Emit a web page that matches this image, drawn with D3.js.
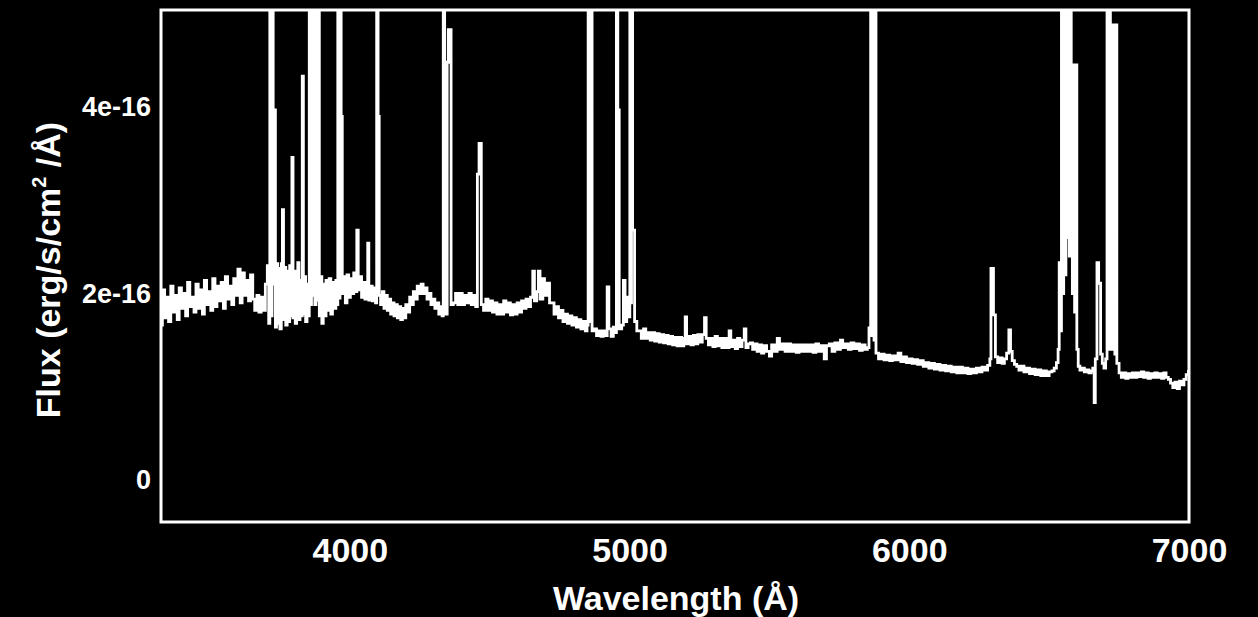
<!DOCTYPE html>
<html>
<head>
<meta charset="UTF-8">
<script src="https://d3js.org/d3.v7.min.js"></script>
<style>
  body { margin: 0; background: #000; overflow: hidden; }
  svg { display: block; }
  text { font-family: 'Liberation Sans', Arial, sans-serif; font-weight: bold; fill: #fff; }
</style>
</head>
<body>
<svg id="chart" width="1258" height="617"></svg>
<script>
// wavelength in Angstrom, flux in units of 1e-16 erg/s/cm^2/A
const wavelength = [
  3325,3330,3338,3345,3352,3360,3368,3375,3383,3390,3398,3405,3413,3420,3428,3435,3443,3450,3458,3465,
  3473,3480,3488,3495,3503,3510,3518,3525,3533,3540,3548,3555,3563,3570,3578,3585,3593,3600,3608,3615,
  3623,3630,3638,3645,3653,3660,3668,3675,3683,3690,3698,3705,3710,3714,3718,3722,3726,3730,3734,3738,
  3742,3746,3750,3755,3759,3763,3767,3771,3776,3780,3785,3789,3793,3797,3801,3805,3810,3814,3818,3822,
  3826,3830,3834,3838,3842,3847,3851,3855,3859,3863,3867,3871,3875,3879,3883,3887,3891,3896,3900,3905,
  3910,3915,3920,3926,3932,3938,3944,3950,3954,3957,3961,3965,3969,3973,3978,3984,3990,3996,4002,4008,
  4014,4020,4025,4030,4036,4042,4048,4054,4060,4064,4068,4074,4080,4086,4092,4096,4101,4105,4110,4116,
  4122,4128,4134,4140,4146,4152,4158,4164,4170,4176,4182,4188,4194,4200,4207,4214,4220,4227,4234,4241,
  4248,4255,4262,4269,4276,4283,4290,4297,4304,4311,4318,4325,4330,4334,4339,4348,4352,4362,4370,4378,
  4386,4394,4402,4410,4418,4426,4434,4442,4450,4456,4462,4470,4478,4486,4494,4502,4510,4518,4526,4534,
  4542,4550,4558,4566,4574,4582,4590,4598,4606,4614,4622,4630,4638,4646,4654,4660,4668,4674,4680,4690,
  4696,4706,4714,4722,4730,4738,4746,4754,4762,4770,4778,4786,4794,4802,4810,4818,4826,4834,4842,4848,
  4852,4857,4861,4866,4874,4882,4890,4898,4906,4912,4920,4926,4934,4942,4950,4953,4958,4963,4972,4978,
  4984,4990,4996,5001,5004,5007,5011,5018,5026,5034,5042,5050,5058,5066,5074,5082,5090,5098,5106,5114,
  5122,5130,5138,5146,5154,5162,5170,5178,5186,5194,5199,5204,5212,5220,5228,5236,5244,5252,5260,5268,
  5274,5282,5290,5298,5306,5314,5322,5330,5338,5346,5356,5362,5370,5378,5386,5394,5402,5410,5416,5424,
  5432,5440,5448,5456,5464,5472,5480,5490,5500,5508,5518,5528,5536,5546,5556,5566,5576,5586,5596,5606,
  5616,5626,5636,5646,5656,5666,5676,5686,5696,5704,5714,5724,5734,5744,5754,5762,5772,5782,5792,5802,
  5812,5822,5832,5842,5850,5856,5862,5866,5870,5874,5877,5881,5890,5900,5910,5920,5930,5940,5950,5960,
  5970,5980,5990,6000,6010,6020,6030,6040,6050,6060,6070,6080,6090,6100,6110,6120,6130,6140,6150,6160,
  6170,6180,6190,6200,6210,6220,6230,6240,6250,6260,6270,6280,6288,6292,6301,6308,6316,6324,6332,6340,
  6348,6356,6362,6368,6376,6384,6392,6400,6410,6420,6430,6440,6450,6460,6470,6480,6490,6500,6510,6518,
  6526,6532,6536,6540,6544,6548,6552,6556,6560,6564,6568,6572,6576,6579,6583,6587,6591,6595,6599,6604,
  6610,6618,6626,6634,6642,6650,6656,6661,6665,6671,6677,6684,6690,6696,6702,6707,6711,6715,6719,6723,
  6727,6731,6735,6738,6742,6750,6758,6766,6774,6782,6790,6798,6806,6814,6822,6830,6838,6846,6854,6862,
  6870,6878,6886,6894,6902,6910,6918,6926,6934,6942,6950,6958,6966,6974,6982,6990,6998
];
const flux = [
  1.66,2.04,1.74,1.96,1.70,2.08,1.80,1.98,1.72,2.06,1.84,2.00,1.76,2.12,1.86,1.96,1.80,2.10,1.84,2.04,
  1.78,2.14,1.88,2.02,1.82,2.16,1.86,2.08,1.92,2.12,1.84,2.18,1.94,2.08,1.88,2.16,1.98,2.26,1.90,2.22,
  1.98,2.14,1.92,2.20,1.94,1.82,1.98,1.80,1.96,1.82,2.10,2.30,1.68,5.6,1.76,5.6,2.10,3.97,1.64,2.32,
  1.68,2.27,1.62,2.32,2.90,1.72,2.28,1.66,2.24,1.70,2.30,1.76,3.46,1.74,2.24,1.68,2.18,2.33,1.72,2.14,
  1.76,4.33,1.78,2.18,1.70,2.10,1.76,5.6,1.88,5.6,1.98,5.6,1.88,5.6,1.93,5.6,1.76,2.18,1.68,2.10,
  1.76,2.14,1.82,2.16,1.78,2.12,1.84,2.14,1.88,5.6,1.95,5.6,3.90,2.00,2.18,1.90,2.20,1.96,2.16,2.00,
  2.22,2.02,2.68,2.04,2.18,1.96,2.12,1.94,2.10,2.54,1.93,2.08,1.92,2.06,1.90,5.6,3.90,1.98,1.88,2.02,
  1.84,1.98,1.82,1.94,1.78,1.90,1.76,1.88,1.74,1.86,1.72,1.84,1.74,1.88,1.80,1.96,1.88,2.02,1.94,2.08,
  2.00,2.10,2.00,2.06,1.94,2.00,1.88,1.94,1.84,1.90,1.78,1.86,1.76,5.6,1.78,4.48,4.83,1.88,1.90,2.00,
  1.88,2.00,1.88,1.98,1.90,2.00,1.88,1.98,1.86,3.28,3.61,1.88,1.82,1.94,1.82,1.92,1.80,1.90,1.78,1.88,
  1.78,1.92,1.80,1.90,1.77,1.88,1.78,1.90,1.80,1.92,1.84,1.94,1.86,1.96,2.24,1.92,2.02,2.24,1.94,2.16,
  1.98,2.11,1.90,1.90,1.78,1.86,1.74,1.82,1.70,1.78,1.68,1.76,1.66,1.74,1.64,1.72,1.62,1.70,1.60,1.66,
  5.6,1.70,5.6,1.60,1.62,1.55,1.60,1.54,1.60,1.55,2.07,1.62,1.54,1.64,1.58,5.6,3.97,1.62,1.66,2.14,
  1.70,1.96,1.75,5.6,1.90,5.6,2.68,1.70,1.60,1.60,1.52,1.62,1.52,1.58,1.50,1.58,1.49,1.57,1.48,1.56,
  1.47,1.55,1.46,1.54,1.45,1.53,1.44,1.53,1.44,1.52,1.75,1.46,1.54,1.45,1.55,1.46,1.56,1.48,1.56,1.74,
  1.52,1.45,1.52,1.43,1.54,1.44,1.52,1.42,1.52,1.42,1.60,1.43,1.50,1.41,1.52,1.43,1.50,1.62,1.42,1.46,
  1.47,1.40,1.46,1.38,1.45,1.36,1.44,1.38,1.33,1.45,1.38,1.52,1.40,1.46,1.38,1.46,1.38,1.45,1.37,1.45,
  1.38,1.45,1.38,1.45,1.37,1.46,1.38,1.44,1.30,1.44,1.46,1.38,1.47,1.40,1.50,1.42,1.46,1.40,1.47,1.41,
  1.46,1.39,1.45,1.40,1.42,1.63,5.6,1.55,5.6,1.50,5.6,1.36,1.30,1.35,1.29,1.34,1.28,1.33,1.29,1.36,
  1.27,1.32,1.26,1.30,1.25,1.29,1.24,1.28,1.22,1.26,1.20,1.25,1.19,1.24,1.18,1.23,1.17,1.22,1.16,1.21,
  1.15,1.21,1.15,1.20,1.14,1.19,1.15,1.20,1.16,1.21,1.18,1.23,1.30,2.27,1.77,1.32,1.26,1.31,1.25,1.30,
  1.36,1.61,1.38,1.28,1.24,1.22,1.18,1.22,1.16,1.20,1.14,1.19,1.13,1.18,1.12,1.17,1.12,1.16,1.17,1.20,
  1.26,1.40,2.33,1.60,5.6,2.00,5.6,2.20,5.6,2.60,5.6,2.40,5.6,4.45,2.00,4.45,1.80,4.45,1.40,1.22,
  1.18,1.20,1.16,1.18,1.15,1.17,1.20,0.83,1.30,2.33,2.11,1.35,1.25,1.20,1.30,5.6,1.40,5.6,1.40,4.88,
  1.40,4.88,1.35,4.88,1.25,1.15,1.10,1.15,1.09,1.14,1.10,1.15,1.10,1.15,1.11,1.16,1.10,1.15,1.09,1.14,
  1.10,1.15,1.10,1.14,1.09,1.15,1.10,1.08,1.04,0.99,1.05,0.98,1.06,1.02,1.08,1.13,1.18
];

const xTicks = [4000, 5000, 6000, 7000];
const yTicks = [0, 2, 4];
const yTickLabels = ["0", "2e-16", "4e-16"];

const svg = d3.select("#chart");
const frame = { left: 161, right: 1189, top: 10, bottom: 522 };

const x = d3.scaleLinear().domain([3325, 7000]).range([frame.left, frame.right]);
const y = d3.scaleLinear().domain([-0.45, 5.04]).range([frame.bottom, frame.top]);

svg.append("rect").attr("width", 1258).attr("height", 617).attr("fill", "#000");

svg.append("defs").append("clipPath").attr("id", "plot-clip")
  .append("rect")
  .attr("x", frame.left).attr("y", frame.top)
  .attr("width", frame.right - frame.left).attr("height", frame.bottom - frame.top);

const points = wavelength.map((w, i) => [w, flux[i]]);

const line = d3.line()
  .x(d => x(d[0]))
  .y(d => y(d[1]))
  .curve(d3.curveStepAfter);

svg.append("path")
  .datum(points)
  .attr("clip-path", "url(#plot-clip)")
  .attr("fill", "none")
  .attr("stroke", "#fff")
  .attr("stroke-width", 2.8)
  .attr("d", line);

// frame
svg.append("rect")
  .attr("x", frame.left).attr("y", frame.top)
  .attr("width", frame.right - frame.left).attr("height", frame.bottom - frame.top)
  .attr("fill", "none").attr("stroke", "#fff").attr("stroke-width", 3);

// x axis labels
const xAxis = svg.append("g")
  .attr("transform", `translate(0,${frame.bottom})`)
  .call(d3.axisBottom(x).tickValues(xTicks).tickSize(0).tickPadding(0).tickFormat(d3.format("d")));
xAxis.select(".domain").remove();
xAxis.selectAll("text")
  .attr("y", 40).attr("dy", null)
  .style("font-size", "34px").attr("fill", "#fff");

// y axis labels
const yAxis = svg.append("g")
  .attr("transform", `translate(${frame.left},0)`)
  .call(d3.axisLeft(y).tickValues(yTicks).tickSize(0).tickPadding(10)
    .tickFormat((d, i) => yTickLabels[i]));
yAxis.select(".domain").remove();
yAxis.selectAll("text")
  .style("font-size", "27px").attr("fill", "#fff");

// axis titles
svg.append("text")
  .attr("x", 676).attr("y", 610)
  .attr("text-anchor", "middle")
  .style("font-size", "34px")
  .text("Wavelength (Å)");

const yTitle = svg.append("text")
  .attr("transform", "translate(60,270) rotate(-90)")
  .attr("text-anchor", "middle")
  .style("font-size", "34px");
yTitle.append("tspan").text("Flux (erg/s/cm");
yTitle.append("tspan").attr("dy", -14).style("font-size", "20px").text("2");
yTitle.append("tspan").attr("dy", 14).text(" /Å)");
</script>
</body>
</html>
